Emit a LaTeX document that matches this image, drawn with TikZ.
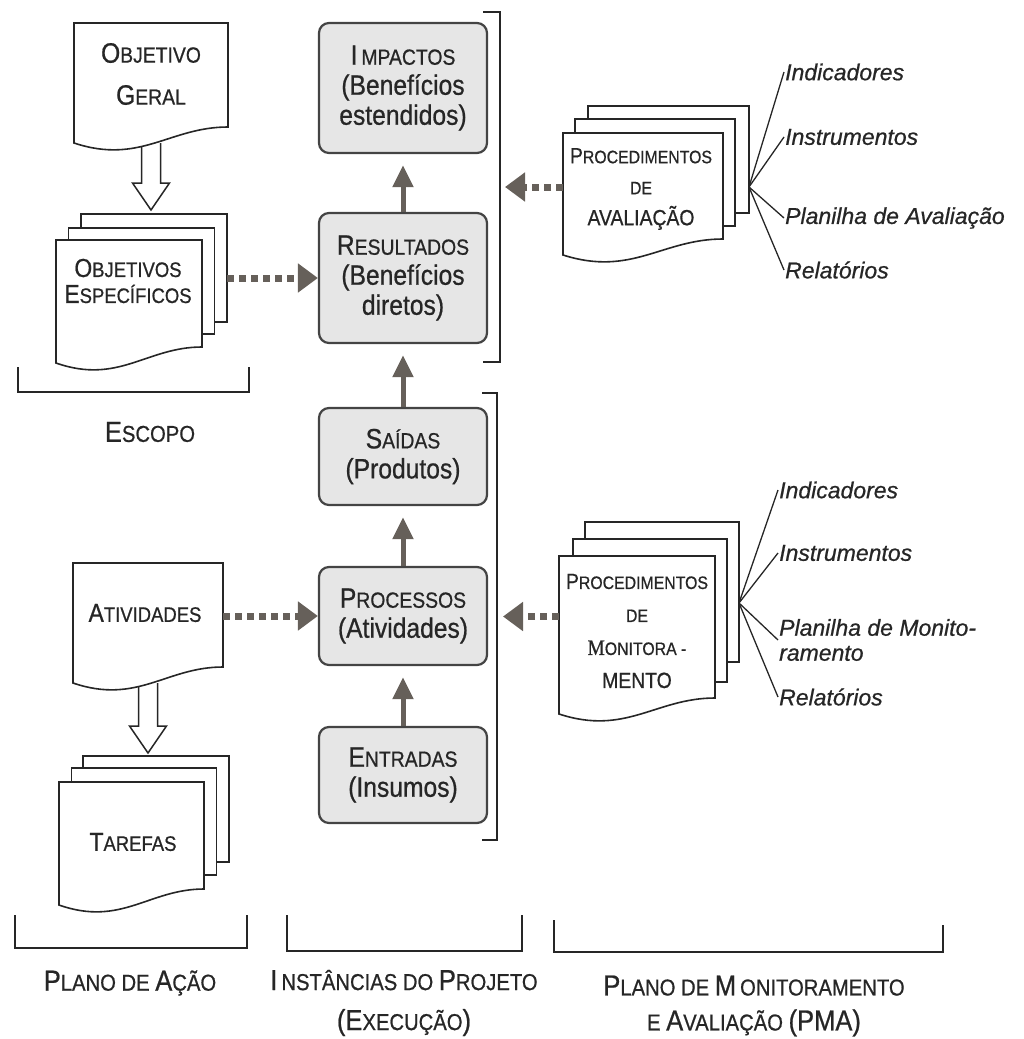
\documentclass[tikz,border=0pt]{standalone}
\usepackage{fontspec}
\setmainfont{Liberation Sans}[FakeStretch=0.88, FakeBold=0.7]
\newfontfamily\itemfont{Liberation Sans}[FakeBold=0.7]
\newfontfamily\serifm{Liberation Serif}[FakeStretch=0.88, FakeBold=0.7]
\usetikzlibrary{arrows.meta,calc,positioning}
\definecolor{ink}{HTML}{262626}
\definecolor{arrowc}{HTML}{66605A}
\definecolor{boxfill}{HTML}{E6E6E6}
\definecolor{boxline}{HTML}{444444}
\newcommand{\scB}[1]{{\fontsize{\bigpt}{\bigpt}\selectfont #1}}
\newcommand{\scS}[1]{{\fontsize{\smpt}{\smpt}\selectfont #1}}
\newcommand{\docpath}[1]{%
    \path[docline] (#1.south west) -- (#1.north west) -- (#1.north east)
        -- ($(#1.south east)+(0,-16)$)
        .. controls ($(#1.south east)!0.38!(#1.south west)+(0,-16)$)
        and ($(#1.south west)!0.43!(#1.south east)+(0,22)$) .. (#1.south west) -- cycle;}
\newcommand{\hollowarrow}[2]{%
    \draw[hollowline] ($(#1)+(-9.5,0)$) -- ($(#2)+(-9.5,-27)$) -- ($(#2)+(-18.5,-27)$) -- (#2)
        -- ($(#2)+(18.5,-27)$) -- ($(#2)+(9.5,-27)$) -- ($(#1)+(9.5,0)$);}
\begin{document}
\begin{tikzpicture}[x=1pt, y=-1pt,
                    every node/.style={text=ink},
                    page/.style n args={2}{minimum width=#1, minimum height=#2, inner sep=0pt, outer sep=0pt},
                    backpage/.style={draw=ink, line width=1.6pt, fill=white},
                    docline/.style={draw=ink, line width=1.6pt, fill=white},
                    hollowline/.style={draw=ink, line width=1.5pt, fill=white, line join=miter},
                    stagebox/.style={draw=boxline, line width=2.2pt, fill=boxfill, rounded corners=10pt,
                                     minimum width=168pt, align=center,
                                     font=\def\bigpt{28}\def\smpt{22}\fontsize{28}{30}\selectfont},
                    flowarrow/.style={draw=arrowc, line width=5pt, -{Triangle[width=20pt,length=22pt]}, shorten >=11pt},
                    dotarrow/.style={draw=arrowc, line width=7pt, dash pattern=on 7pt off 5pt,
                                     -{Triangle[width=28pt,length=20pt]}},
                    bracket/.style={draw=ink, line width=1.6pt},
                    fanline/.style={draw=ink, line width=1.3pt},
                    itemlbl/.style={anchor=west, inner sep=1pt, align=left,
                                    font=\itemfont\itshape\fontsize{23}{25}\selectfont},
                    ogtxt/.style={align=center, inner sep=0pt,
                                  font=\def\bigpt{28}\def\smpt{22}\fontsize{28}{42}\selectfont},
                    lefttxt/.style={align=center, inner sep=0pt,
                                    font=\def\bigpt{26}\def\smpt{21}\fontsize{26}{26}\selectfont},
                    proctxt/.style={align=center, inner sep=0pt,
                                    font=\def\bigpt{22}\def\smpt{18}\fontsize{22}{31}\selectfont},
                    groupname/.style={align=center, inner sep=0pt,
                                      font=\def\bigpt{29}\def\smpt{23}\fontsize{29}{40}\selectfont}]
    \useasboundingbox (0,0) rectangle (1024,1039);

    \node[page={154pt}{120pt}] (og) at (151,83) {};
    \node[page={146pt}{108pt}] (oe3) at (154,268) {};
    \node[page={146pt}{106pt}] (oe2) at (141.5,281) {};
    \node[page={146pt}{123pt}] (oe) at (129,301.5) {};
    \node[page={150pt}{120pt}] (ativ) at (148,623) {};
    \node[page={146pt}{106pt}] (tar3) at (156,809) {};
    \node[page={145pt}{107pt}] (tar2) at (144,821.5) {};
    \node[page={145pt}{123pt}] (tar) at (131.5,843.5) {};
    \node[page={161pt}{107pt}] (pa3) at (668.5,159.5) {};
    \node[page={160pt}{107pt}] (pa2) at (655,172.5) {};
    \node[page={160pt}{122pt}] (pa) at (643,194) {};
    \node[page={154pt}{140pt}] (pm3) at (662,592) {};
    \node[page={154pt}{143pt}] (pm2) at (650,610.5) {};
    \node[page={156pt}{158pt}] (pm) at (637,635) {};

    \coordinate (ogtip) at ($(og.south |- oe3.north)+(0,-4)$);
    \coordinate (ativtip) at ($(ativ.south |- tar3.north)+(0,-3)$);
    \hollowarrow{og.south}{ogtip}
    \hollowarrow{ativ.south}{ativtip}

    \foreach \p in {oe3,oe2,tar3,tar2,pa3,pa2,pm3,pm2}
        \draw[backpage] (\p.north west) rectangle (\p.south east);
    \foreach \p in {og,oe,ativ,tar,pa,pm}
        {\docpath{\p}}

    \node[ogtxt] (ogt) at (151,74) {\scB{O}\scS{BJETIVO}\\\scB{G}\scS{ERAL}};
    \node[lefttxt] (oet) at (128,281) {\scB{O}\scS{BJETIVOS}\\\scB{E}\scS{SPECÍFICOS}};
    \node[lefttxt] (ativt) at (145,613) {\scB{A}\scS{TIVIDADES}};
    \node[lefttxt] (tart) at (133,842) {\scB{T}\scS{AREFAS}};
    \node[proctxt] (pat) at (641,189) {\scB{P}\scS{ROCEDIMENTOS}\\\scS{DE}\\\scB{AVALIAÇÃO}};
    \node[proctxt] (pmt) at (637,631) {\scB{P}\scS{ROCEDIMENTOS}\\[2pt]\scS{DE}\\[2pt]{\serifm\scB{M}}\scS{ONITORA -}\\[2pt]\scB{MENTO}};

    \node[stagebox, minimum height=130pt] (imp) at (403,88) {\scB{I}\hspace{4pt}\scS{MPACTOS}\\(Benefícios\\estendidos)};
    \node[stagebox, minimum height=130pt] (res) at (403,278) {\scB{R}\scS{ESULTADOS}\\(Benefícios\\diretos)};
    \node[stagebox, minimum height=97pt] (sai) at (403,456.5) {\scB{S}\scS{AÍDAS}\\(Produtos)};
    \node[stagebox, minimum height=98pt] (pro) at (403,616) {\scB{P}\scS{ROCESSOS}\\(Atividades)};
    \node[stagebox, minimum height=96pt] (ent) at (403,775) {\scB{E}\scS{NTRADAS}\\(Insumos)};

    \draw[flowarrow] (res) -- (imp);
    \draw[flowarrow] (sai) -- (res);
    \draw[flowarrow] (pro) -- (sai);
    \draw[flowarrow] (ent) -- (pro);

    \coordinate (brAtop) at (500,12);
    \coordinate (brAbot) at (500,362);
    \coordinate (brBtop) at (497,393);
    \coordinate (brBbot) at (497,840);
    \coordinate (brA) at ($(brAtop)!0.5!(brAbot)$);
    \coordinate (brB) at ($(brBtop)!0.5!(brBbot)$);
    \draw[bracket] ($(brAtop)+(-17,0)$) -- (brAtop) -- (brAbot) -- ($(brAbot)+(-17,0)$);
    \draw[bracket] ($(brBtop)+(-15,0)$) -- (brBtop) -- (brBbot) -- ($(brBbot)+(-15,0)$);

    \draw[dotarrow] (oe3.east |- res) -- (res.west);
    \draw[dotarrow] (ativ.east |- pro) -- (pro.west);
    \draw[dotarrow, shorten >=5pt] (pa.west |- brA) -- (brA);
    \draw[dotarrow, shorten >=6pt] (pm.west |- brB) -- (brB);

    \node[itemlbl] (indA) at (784,72) {Indicadores};
    \node[itemlbl] (insA) at (784,137) {Instrumentos};
    \node[itemlbl] (plaA) at (784,218) {Planilha de Avaliação};
    \node[itemlbl] (relA) at (784,270) {Relatórios};
    \node[itemlbl] (indB) at (778,490) {Indicadores};
    \node[itemlbl] (insB) at (778,553) {Instrumentos};
    \node[itemlbl] (plaB) at (778,640) {Planilha de Monito-\\ramento};
    \node[itemlbl] (relB) at (778,697) {Relatórios};
    \coordinate (fanA) at (pa3.east |- brA);
    \coordinate (fanB) at ($(pm3.east)+(0,11)$);
    \foreach \l in {indA,insA,plaA,relA}
        \draw[fanline] (fanA) -- (\l.west);
    \foreach \l in {indB,insB,plaB,relB}
        \draw[fanline] (fanB) -- (\l.west);

    \draw[bracket] (18,367) -- (18,392) -- (249,392) -- (249,367);
    \draw[bracket] (15,915) -- (15,948) -- (247,948) -- (247,915);
    \draw[bracket] (287,915) -- (287,951) -- (522,951) -- (522,915);
    \draw[bracket] (554,920) -- (554,952) -- (943,952) -- (943,925);

    \node[groupname] (escopo) at (150,432) {\scB{E}\scS{SCOPO}};
    \node[groupname] (plano) at (130,983) {\scB{P}\scS{LANO DE }\scB{A}\scS{ÇÃO}};
    \node[groupname] (inst) at (404,1003) {\scB{I}\hspace{4pt}\scS{NSTÂNCIAS DO }\scB{P}\scS{ROJETO}\\\scB{(E}\scS{XECUÇÃO}\scB{)}};
    \node[groupname] (pma) at (754,1006) {\scB{P}\scS{LANO DE }\scB{M}\hspace{4pt}\scS{ONITORAMENTO}\\[-5pt]\scS{E }\scB{A}\scS{VALIAÇÃO }\scB{(PMA)}};
\end{tikzpicture}
\end{document}
